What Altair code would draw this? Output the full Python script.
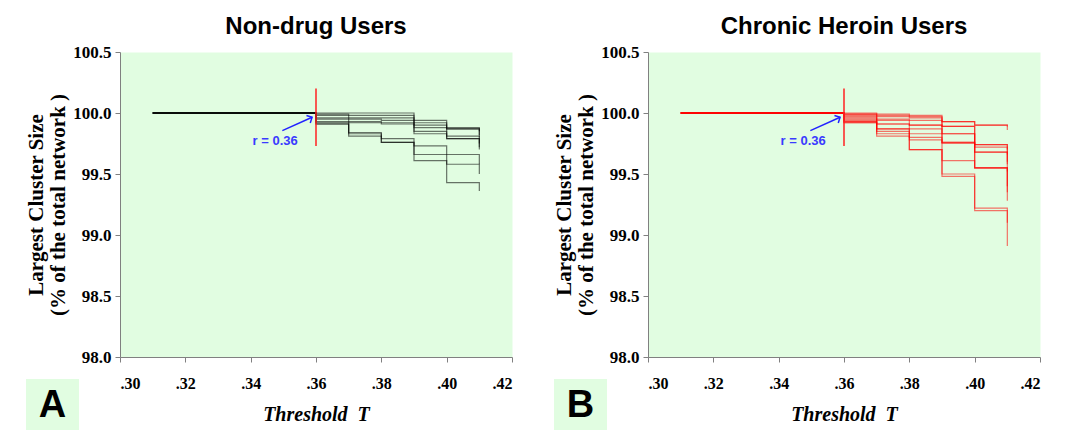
import altair as alt
import pandas as pd

# ---- data ----
thresholds = [0.31, 0.32, 0.33, 0.34, 0.35, 0.36, 0.37, 0.38, 0.39, 0.40, 0.41]
flat_part = [100.0, 100.0, 100.0, 100.0, 100.0]  # values at .31 - .35

# values at .36, .37, .38, .39, .40, .41 for each subject
nondrug_series = [
    [100.0, 100.0, 100.0, 99.94, 99.88, 99.85],
    [99.99, 99.98, 99.98, 99.92, 99.87, 99.82],
    [99.98, 99.96, 99.96, 99.90, 99.87, 99.80],
    [99.96, 99.95, 99.94, 99.88, 99.81, 99.75],
    [99.95, 99.93, 99.92, 99.85, 99.79, 99.72],
    [99.93, 99.92, 99.91, 99.83, 99.79, 99.70],
    [99.92, 99.84, 99.79, 99.73, 99.66, 99.58],
    [99.91, 99.83, 99.76, 99.66, 99.58, 99.50],
    [99.91, 99.81, 99.76, 99.61, 99.43, 99.36],
]
heroin_series = [
    [100.0, 99.99, 99.98, 99.93, 99.90, 99.89],
    [99.99, 99.98, 99.97, 99.93, 99.90, 99.86],
    [99.98, 99.97, 99.96, 99.89, 99.74, 99.70],
    [99.97, 99.95, 99.94, 99.89, 99.72, 99.66],
    [99.96, 99.94, 99.90, 99.83, 99.74, 99.60],
    [99.95, 99.91, 99.90, 99.83, 99.68, 99.52],
    [99.94, 99.87, 99.87, 99.76, 99.55, 99.40],
    [99.93, 99.87, 99.83, 99.75, 99.55, 99.35],
    [99.93, 99.85, 99.80, 99.61, 99.55, 99.28],
    [99.92, 99.83, 99.70, 99.50, 99.22, 99.10],
    [99.92, 99.81, 99.70, 99.48, 99.20, 98.91],
    [99.99, 99.91, 99.78, 99.76, 99.68, 99.58],
]

x_ticks = [0.30, 0.32, 0.34, 0.36, 0.38, 0.40, 0.42]
y_ticks = [98.0, 98.5, 99.0, 99.5, 100.0, 100.5]

r_value = [0.36]
r_line_y = [99.73, 100.2]
r_label = ["r = 0.36"]
r_label_pos = [0.3475, 99.77]
arrow_tail = [0.3497, 99.855]
arrow_tip = [0.3588, 99.965]

panel_titles = ["Non-drug Users", "Chronic Heroin Users"]
panel_letters = ["A", "B"]
panel_colors = ["#000000", "#ff0000"]

GREEN = "#e1fde1"


def long_frame(series):
    rows = []
    for i, s in enumerate(series):
        vals = flat_part + s
        for t, v in zip(thresholds, vals):
            rows.append({"s": i, "t": t, "v": v})
    return pd.DataFrame(rows)


def panel(series, title, letter, color, opacity):
    df = long_frame(series)
    xscale = alt.Scale(domain=[0.30, 0.42], nice=False, zero=False)
    yscale = alt.Scale(domain=[98.0, 100.5], nice=False, zero=False)
    xaxis = alt.Axis(values=x_ticks,
                     labelExpr="replace(format(datum.value, '.2f'), '0.', '.')",
                     title="Threshold\u00a0\u00a0T", titleFontStyle="italic", titleFontSize=20,
                     tickSize=5, labelPadding=13, titlePadding=13, labelFontSize=16)
    yaxis = alt.Axis(values=y_ticks, format=".1f",
                     title=["Largest Cluster Size", "(% of the total network )"],
                     tickSize=5, labelPadding=4, titlePadding=4, titleLineHeight=22,
                     titleFontSize=21, labelFontSize=17)

    lines = alt.Chart(df).mark_line(interpolate="step-after", strokeWidth=1.2,
                                    opacity=opacity, color=color).encode(
        x=alt.X("t:Q", scale=xscale, axis=xaxis),
        y=alt.Y("v:Q", scale=yscale, axis=yaxis),
        detail="s:N",
    )

    rline = alt.Chart(pd.DataFrame({"t": r_value, "y1": [r_line_y[0]], "y2": [r_line_y[1]]})).mark_rule(
        color="#ff2020", strokeWidth=1.5).encode(
        x=alt.X("t:Q", scale=xscale), y=alt.Y("y1:Q", scale=yscale), y2="y2:Q")

    label = alt.Chart(pd.DataFrame({"t": [r_label_pos[0]], "v": [r_label_pos[1]], "txt": r_label})).mark_text(
        color="#3a3aff", font="Liberation Sans", fontWeight="bold", fontSize=13).encode(
        x=alt.X("t:Q", scale=xscale), y=alt.Y("v:Q", scale=yscale), text="txt:N")

    arrow = alt.Chart(pd.DataFrame({"x1": [arrow_tail[0]], "y1": [arrow_tail[1]],
                                    "x2": [arrow_tip[0]], "y2": [arrow_tip[1]]})).mark_rule(
        color="#2222ff", strokeWidth=1.5).encode(
        x=alt.X("x1:Q", scale=xscale), y=alt.Y("y1:Q", scale=yscale), x2="x2:Q", y2="y2:Q")

    head = alt.Chart(pd.DataFrame({"x": [arrow_tip[0]], "y": [arrow_tip[1]]})).mark_point(
        shape="M -1 1 L 0 0 L 1 1", filled=False, color="#2222ff", strokeWidth=1.5,
        size=70, angle=63, opacity=1).encode(
        x=alt.X("x:Q", scale=xscale), y=alt.Y("y:Q", scale=yscale))

    letter_df = pd.DataFrame({"L": [letter]})
    box = alt.Chart(letter_df).mark_rect(color=GREEN).encode(
        x=alt.value(-94), x2=alt.value(-41), y=alt.value(327), y2=alt.value(380))
    ltext = alt.Chart(letter_df).mark_text(font="Liberation Sans", fontWeight="bold",
                                          fontSize=38, color="black").encode(
        x=alt.value(-67.5), y=alt.value(354), text="L:N")

    return alt.layer(lines, rline, arrow, head, label, box, ltext).properties(
        width=392, height=305,
        title=alt.TitleParams(title, font="Liberation Sans", fontSize=24,
                              fontWeight="bold", offset=4, anchor="middle"))


a = panel(nondrug_series, panel_titles[0], panel_letters[0], panel_colors[0], 0.55)
b = panel(heroin_series, panel_titles[1], panel_letters[1], panel_colors[1], 0.55)

chart = alt.hconcat(a, b, spacing=40).properties(
    padding={"left": 17, "top": 6, "right": 5, "bottom": 0}
).configure_view(fill=GREEN, stroke="transparent").configure_axis(
    grid=False, domainColor="#808080", tickColor="#808080",
    labelFont="Liberation Serif", labelFontWeight="bold",
    labelColor="black", titleFont="Liberation Serif", titleFontWeight="bold",
    titleColor="black")

chart.save("out.html", embed_options={"renderer": "svg", "actions": False})
